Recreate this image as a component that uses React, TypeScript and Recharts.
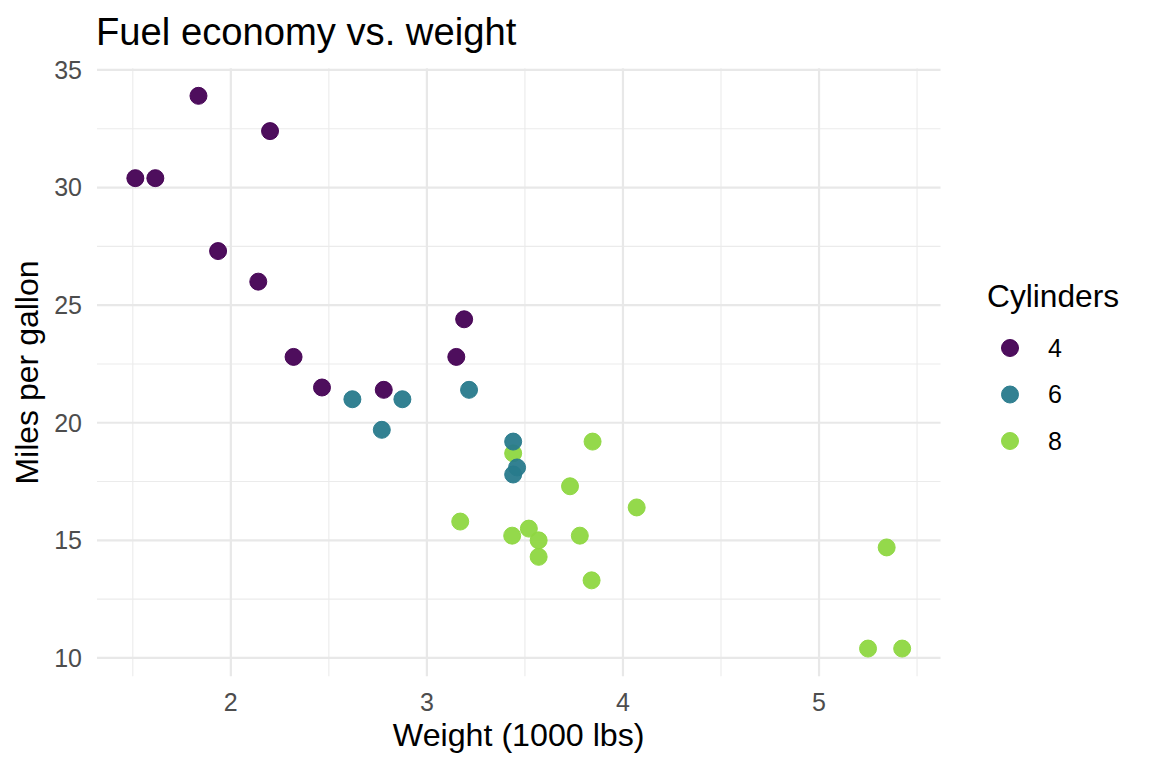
import { ScatterChart, Scatter, XAxis, YAxis, CartesianGrid } from 'recharts';

// mtcars: weight (1000 lbs) and mpg, split by number of cylinders
const weight4 = [2.32, 3.19, 3.15, 2.2, 1.615, 1.835, 2.465, 1.935, 2.14, 1.513, 2.78];
const mpg4 = [22.8, 24.4, 22.8, 32.4, 30.4, 33.9, 21.5, 27.3, 26.0, 30.4, 21.4];
const weight6 = [2.62, 2.875, 3.215, 3.46, 3.44, 3.44, 2.77];
const mpg6 = [21.0, 21.0, 21.4, 18.1, 19.2, 17.8, 19.7];
const weight8 = [3.44, 3.57, 4.07, 3.73, 3.78, 5.25, 5.424, 5.345, 3.52, 3.435, 3.84, 3.845, 3.17, 3.57];
const mpg8 = [18.7, 14.3, 16.4, 17.3, 15.2, 10.4, 10.4, 14.7, 15.5, 15.2, 13.3, 19.2, 15.8, 15.0];

const cylinders = ['4', '6', '8'];
const colors = ['#440154', '#287A8C', '#8ED741'];

const xTicks = [2, 3, 4, 5];
const xMinor = [1.5, 2.5, 3.5, 4.5, 5.5];
const yTicks = [10, 15, 20, 25, 30, 35];
const yMinor = [12.5, 17.5, 22.5, 27.5, 32.5];

const FONT = '"Liberation Sans", Arial, Helvetica, sans-serif';

const toPoints = (xs: number[], ys: number[]) => xs.map((x, i) => ({ x, y: ys[i] }));
const series = [
  toPoints(weight4, mpg4),
  toPoints(weight6, mpg6),
  toPoints(weight8, mpg8),
];

// ggplot-style 5% expansion of the data range
const expand = (vals: number[]): [number, number] => {
  const lo = Math.min(...vals);
  const hi = Math.max(...vals);
  const pad = (hi - lo) * 0.05;
  return [lo - pad, hi + pad];
};
const xDomain = expand([...weight4, ...weight6, ...weight8]);
const yDomain = expand([...mpg4, ...mpg6, ...mpg8]);

const dot = (color: string) => (p: any) => (
  <circle
    cx={p.cx}
    cy={p.cy}
    r={8.5}
    fill={color}
    fillOpacity={0.95}
    stroke={color}
    strokeOpacity={0.95}
    strokeWidth={1}
  />
);

export default function App() {
  return (
    <div style={{ position: 'relative', width: 1152, height: 768, background: '#fff', fontFamily: FONT }}>
      <style>{'body{margin:0}'}</style>
      <ScatterChart width={1152} height={768} margin={{ top: 68.2, right: 211.5, bottom: 0, left: 0 }}>
        <CartesianGrid stroke="#EBEBEB" strokeWidth={1.1} verticalValues={xMinor} horizontalValues={yMinor} />
        <CartesianGrid stroke="#E8E8E8" strokeWidth={2.2} verticalValues={xTicks} horizontalValues={yTicks} />
        <XAxis
          type="number"
          dataKey="x"
          domain={xDomain}
          ticks={xTicks}
          allowDataOverflow
          height={91.8}
          axisLine={false}
          tickLine={false}
          tickSize={0}
          tickMargin={17}
          tick={{ fill: '#4D4D4D', fontSize: 25, fontFamily: FONT }}
        />
        <YAxis
          type="number"
          dataKey="y"
          domain={yDomain}
          ticks={yTicks}
          allowDataOverflow
          width={97}
          axisLine={false}
          tickLine={false}
          tickSize={0}
          tickMargin={15}
          tick={{ fill: '#4D4D4D', fontSize: 25, fontFamily: FONT }}
        />
        {/* draw 8, 6, 4 so overlaps stack like the original row order */}
        {[2, 1, 0].map((k) => (
          <Scatter
            key={cylinders[k]}
            name={cylinders[k]}
            data={series[k]}
            shape={dot(colors[k])}
            isAnimationActive={false}
          />
        ))}
      </ScatterChart>

      <svg
        width={1152}
        height={768}
        style={{ position: 'absolute', left: 0, top: 0, pointerEvents: 'none', fontFamily: FONT }}
      >
        <text x={96} y={44.5} fontSize={38.2} fill="#000">Fuel economy vs. weight</text>
        <text x={518.7} y={746} fontSize={32.2} fill="#000" textAnchor="middle">Weight (1000 lbs)</text>
        <text
          x={0}
          y={0}
          fontSize={32}
          fill="#000"
          textAnchor="middle"
          transform="translate(38 372.5) rotate(-90)"
        >
          Miles per gallon
        </text>
        <text x={987} y={307} fontSize={31.7} fill="#000">Cylinders</text>
        {cylinders.map((c, i) => (
          <g key={c}>
            <circle cx={1010} cy={348 + i * 46.5} r={8.5} fill={colors[i]} fillOpacity={0.95} stroke={colors[i]} strokeOpacity={0.95} />
            <text x={1048} y={348 + i * 46.5 + 8.8} fontSize={25} fill="#000">{c}</text>
          </g>
        ))}
      </svg>
    </div>
  );
}
